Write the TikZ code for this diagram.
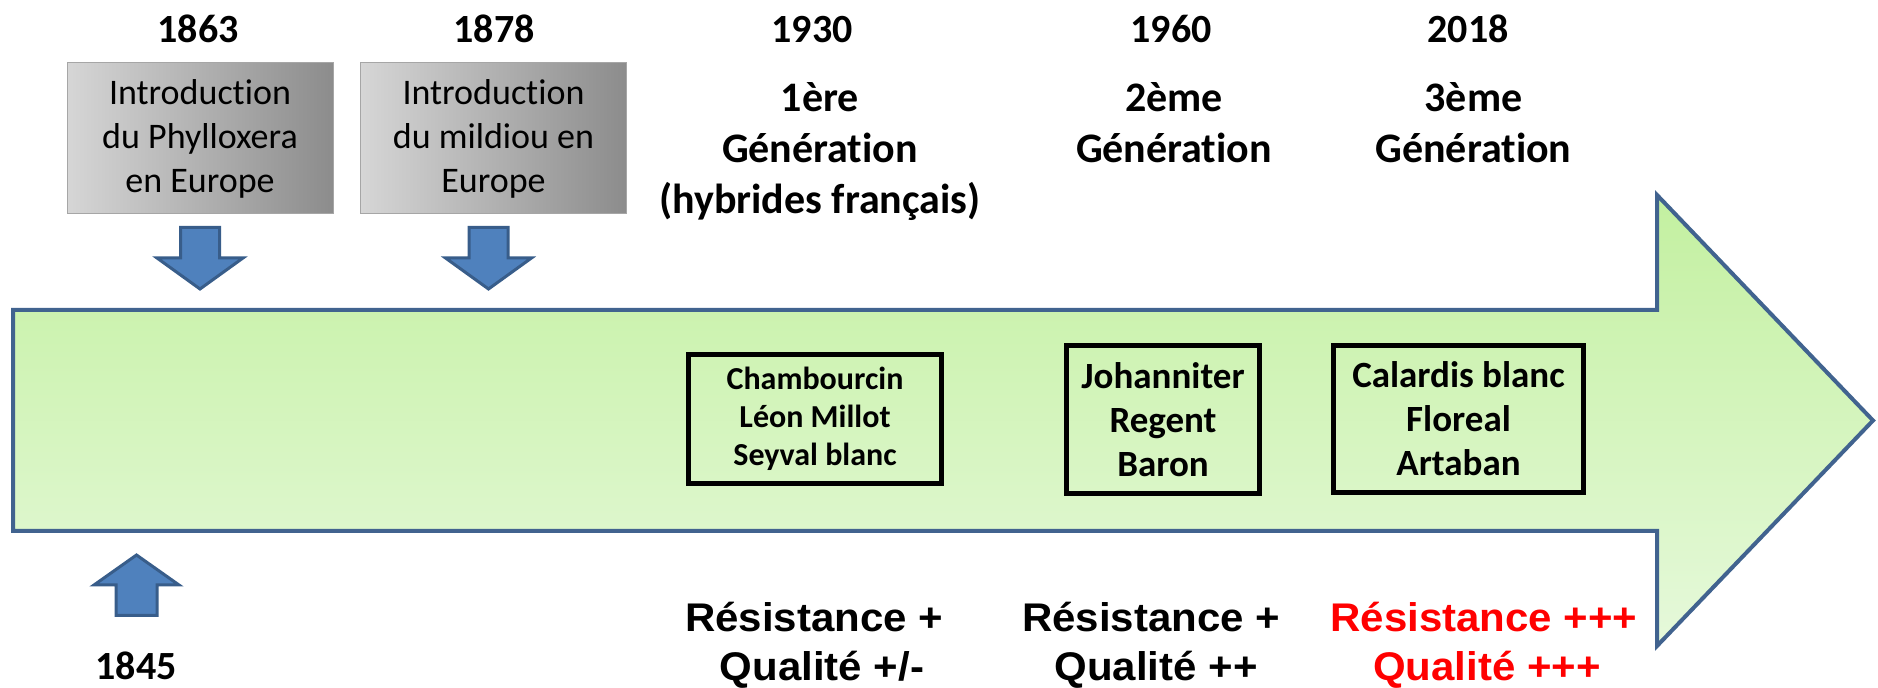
\documentclass[tikz,border=0pt]{standalone}
\usepackage{fontspec}
\setmainfont{Carlito}[Ligatures={NoCommon}]
\newfontfamily\arialb[FakeStretch=1.05]{Liberation Sans}
\definecolor{arrowfill}{HTML}{4F81BD}
\definecolor{arrowline}{HTML}{385D8A}
\definecolor{bigline}{HTML}{41638F}
\definecolor{greentop}{HTML}{C3F0A0}
\definecolor{greenbot}{HTML}{E6F9DB}
\definecolor{grayl}{HTML}{D6D6D6}
\definecolor{grayd}{HTML}{8C8C8C}
\definecolor{grayline}{HTML}{A6A6A6}
\definecolor{resred}{HTML}{FF0000}
\begin{document}
\begin{tikzpicture}[x=0.5pt,y=-0.5pt,
  yearlbl/.style={font=\bfseries\fontsize{20}{24}\selectfont, anchor=base, inner sep=0},
  genlbl/.style={font=\bfseries\fontsize{21}{25.5}\selectfont, anchor=base, inner sep=0},
  graybox/.style={draw=grayline, line width=0.5pt, left color=grayl, right color=grayd,
    align=center, font=\fontsize{18}{22}\selectfont, inner sep=0,
    minimum width=133pt, minimum height=75.5pt},
  varbox/.style={draw=black, line width=2.5pt, align=center, inner sep=0},
  varsmall/.style={font=\bfseries\fontsize{16}{19}\selectfont},
  varlarge/.style={font=\bfseries\fontsize{18.5}{22}\selectfont},
  reslbl/.style={font=\arialb\bfseries\fontsize{20}{24}\selectfont, anchor=base, inner sep=0},
  blockarrow/.style={draw=arrowline, fill=arrowfill, line width=1.5pt, line join=miter},
  bigarrow/.style={draw=bigline, line width=2pt, line join=miter, top color=greentop, bottom color=greenbot}
]
\useasboundingbox (0,0) rectangle (1878,688);

% main timeline arrow
\path[bigarrow] (13,310) -- (1657,310) -- (1657,195) -- (1873,420.5) -- (1657,646) -- (1657,531) -- (13,531) -- cycle;

% year labels
\node[yearlbl] (y1863) at (198,43) {1863};
\node[yearlbl] (y1878) at (494,43) {1878};
\node[yearlbl] (y1930) at (812,43) {1930};
\node[yearlbl] (y1960) at (1171,43) {1960};
\node[yearlbl] (y2018) at (1468,43) {2018};
\node[yearlbl] (y1845) at (136,679) {1845};

% gray boxes
\node[graybox] (phyl) at (200,138.5) {Introduction\\du Phylloxera\\en Europe};
\node[graybox] (mild) at (493.5,138.5) {Introduction\\du mildiou en\\Europe};

% down arrows
\foreach \cx in {200,488.5} {
  \path[blockarrow] (\cx-19.5,227.5) -- (\cx+19.5,227.5) -- (\cx+19.5,258) -- (\cx+43,258)
    -- (\cx,289) -- (\cx-43,258) -- (\cx-19.5,258) -- cycle;
}
% up arrow
\path[blockarrow] (136.5,555) -- (179,585) -- (157,585) -- (157,615.5) -- (116,615.5)
  -- (116,585) -- (94,585) -- cycle;

% generation labels
\node[genlbl] (g1a) at (820,112) {1ère};
\node[genlbl] (g1b) at (820,163) {Génération};
\node[genlbl] (g1c) at (820,214) {(hybrides français)};
\node[genlbl] (g2a) at (1174,112) {2ème};
\node[genlbl] (g2b) at (1174,163) {Génération};
\node[genlbl] (g3a) at (1473.5,112) {3ème};
\node[genlbl] (g3b) at (1473.5,163) {Génération};

% variety boxes
\node[varbox, varsmall, minimum width=126.5pt, minimum height=64.5pt] (va) at (815,419)
  {Chambourcin\\Léon Millot\\Seyval blanc};
\node[varbox, varlarge, minimum width=96.5pt, minimum height=74pt] (vb) at (1163,419.5)
  {Johanniter\\Regent\\Baron};
\node[varbox, varlarge, minimum width=125pt, minimum height=73.5pt] (vc) at (1458.5,419)
  {Calardis blanc\\Floreal\\Artaban};

% resistance / quality
\node[reslbl] (r1) at (814,632) {Résistance +};
\node[reslbl] (q1) at (822,681) {Qualité +/-};
\node[reslbl] (r2) at (1151,632) {Résistance +};
\node[reslbl] (q2) at (1156,681) {Qualité ++};
\node[reslbl, text=resred] (r3) at (1484,632) {Résistance +++};
\node[reslbl, text=resred] (q3) at (1487,681) {Qualité +++};
\end{tikzpicture}
\end{document}
